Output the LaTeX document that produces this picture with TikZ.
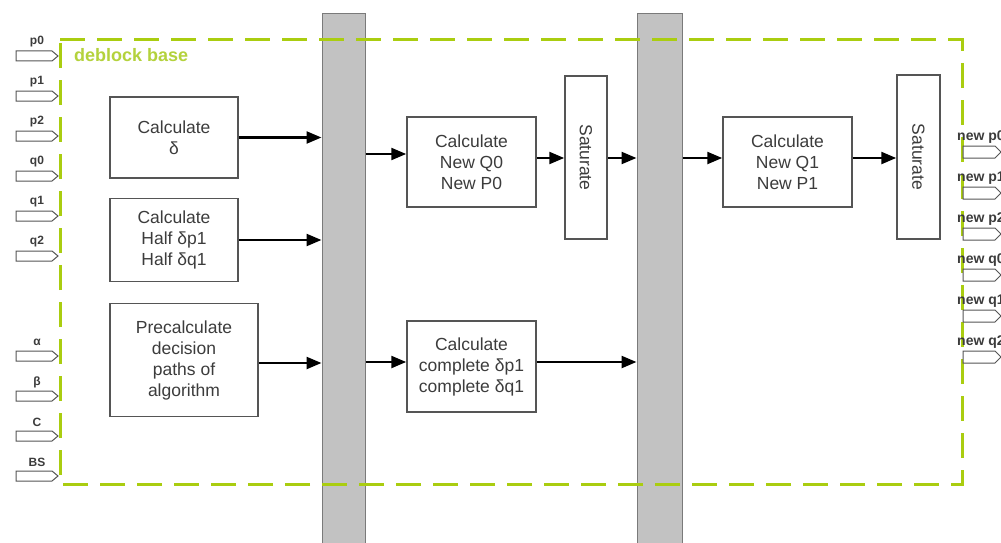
\documentclass[tikz,border=0pt]{standalone}
\usepackage{fontspec}
\setmainfont{Liberation Sans}
\usetikzlibrary{arrows.meta}
\definecolor{txt}{HTML}{3C3C3C}
\definecolor{boxline}{HTML}{555555}
\definecolor{barfill}{HTML}{C2C2C2}
\definecolor{barline}{HTML}{7A7A7A}
\definecolor{lime}{HTML}{AACD10}
\definecolor{limetext}{HTML}{B4D23C}
\tikzset{
  block/.style={draw=boxline, line width=1.5pt, fill=white, text=txt, align=center,
    font=\fontsize{17.5}{21}\selectfont, inner sep=0pt},
  satbox/.style={block, minimum width=42pt, minimum height=163pt},
  bar/.style={draw=barline, line width=1pt, fill=barfill, minimum width=43pt, minimum height=529pt, inner sep=0pt},
  arr/.style={line width=2.4pt, -{Triangle[length=15pt,width=12pt]}},
  frame/.style={draw=lime, line width=3pt, dash pattern=on 25pt off 12pt},
  port/.style={draw=boxline, line width=1pt, fill=white},
  plabel/.style={text=txt, font=\fontsize{12}{13}\bfseries\selectfont, inner sep=0pt},
}
\begin{document}
\begin{tikzpicture}[x=1pt,y=-1pt]
\useasboundingbox (0,0) rectangle (1001,543);
\clip (0,0) rectangle (1001,543);
\fill[white] (0,0) rectangle (1001,543);
% bars
\node[bar] (bar1) at (343.5,278.5) {};
\node[bar, minimum width=45pt] (bar2) at (659.5,278.5) {};
% frame
\draw[frame] (60,40) -- (962,40) -- (962,484) -- (60,484) -- cycle;
\node[anchor=south west, text=limetext, font=\fontsize{18}{20}\bfseries\selectfont, inner sep=0pt] (title) at (74,62) {deblock base};
% blocks
\node[block, minimum width=128pt, minimum height=81pt] (cd) at (174,137.5) {Calculate\\δ};
\node[block, minimum width=128pt, minimum height=83pt] (half) at (174,240) {Calculate\\Half δp1\\Half δq1};
\node[block, minimum width=148pt, minimum height=113pt] (pre) at (184,360) {Precalculate\\decision\\paths of\\algorithm};
\node[block, minimum width=129pt, minimum height=90pt] (q0) at (471.5,162) {Calculate\\New Q0\\New P0};
\node[satbox] (sat1) at (586,157.5) {\rotatebox{-90}{Saturate}};
\node[block, minimum width=129pt, minimum height=91pt] (comp) at (471.5,366.5) {Calculate\\complete δp1\\complete δq1};
\node[block, minimum width=129pt, minimum height=90pt] (q1) at (787.5,162) {Calculate\\New Q1\\New P1};
\node[satbox, minimum width=43pt, minimum height=164pt] (sat2) at (918.5,157) {\rotatebox{-90}{Saturate}};
% arrows
\draw[arr] (cd.east) -- (cd.east -| bar1.west);
\draw[arr] (half.east) -- (half.east -| bar1.west);
\draw[arr] (pre.east |- 0,363) -- (bar1.west |- 0,363);
\draw[arr] (bar1.east |- 0,154) -- (q0.west |- 0,154);
\draw[arr] (q0.east |- 0,158) -- (sat1.west |- 0,158);
\draw[arr] (sat1.east |- 0,158) -- (bar2.west |- 0,158);
\draw[arr] (bar2.east |- 0,158) -- (q1.west |- 0,158);
\draw[arr] (q1.east |- 0,158) -- (sat2.west |- 0,158);
\draw[arr] (bar1.east |- 0,362) -- (comp.west |- 0,362);
\draw[arr] (comp.east |- 0,362) -- (bar2.west |- 0,362);
% input ports
\foreach \lab/\y [count=\i] in {p0/42,p1/82,p2/122,q0/162,q1/202,q2/242,α/342,β/382,C/422,BS/462}{
  \draw[port] (16,\y+9) -- (52,\y+9) -- (58,\y+14) -- (52,\y+19) -- (16,\y+19) -- cycle;
  \node[plabel] (in\i) at (37,\y) {\lab};
}
% output ports
\foreach \lab/\y [count=\i] in {new p0/137,new p1/178,new p2/219,new q0/260,new q1/301,new q2/342}{
  \draw[port] (963,\y+9) -- (963,\y+21) -- (995,\y+21) -- (1001,\y+15) -- (995,\y+9) -- cycle;
  \node[plabel, anchor=west, font=\fontsize{14}{15}\bfseries\selectfont] (out\i) at (957,\y) {\lab};
}
\end{tikzpicture}
\end{document}
